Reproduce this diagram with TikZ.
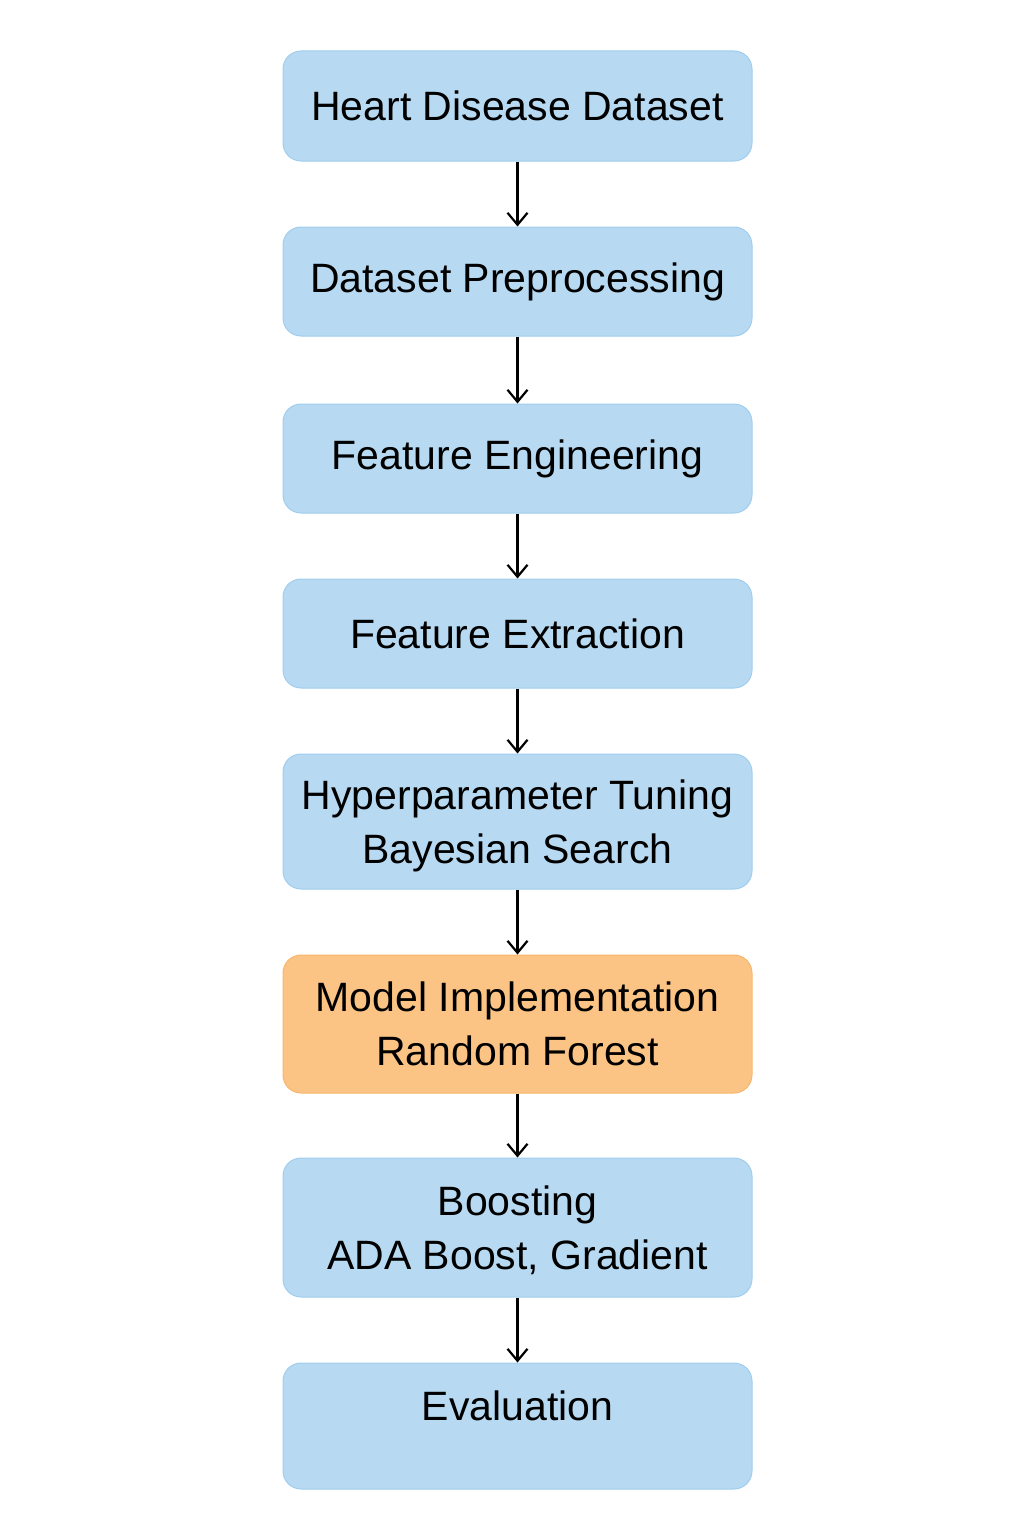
\documentclass[tikz,border=0pt]{standalone}
\usepackage{fontspec}
\setmainfont{Liberation Sans}
\usetikzlibrary{arrows.meta}

\begin{document}
\begin{tikzpicture}[x=1pt,y=-1pt]

% Soft colours for the stage boxes
\definecolor{stageblue}{RGB}{183,218,242}
\definecolor{stageblueline}{RGB}{160,205,238}
\definecolor{stageorange}{RGB}{252,196,132}
\definecolor{stageorangeline}{RGB}{246,182,108}

\tikzset{
  stage/.style={draw=stageblueline, fill=stageblue, line width=1pt,
    rounded corners=18pt, minimum width=469pt, inner sep=0pt,
    align=center, font=\fontsize{41}{54}\selectfont},
  stagehot/.style={stage, draw=stageorangeline, fill=stageorange},
  flow/.style={-{Straight Barb[length=12pt,width=20pt]}, line width=2.2pt},
}

% Page frame
\useasboundingbox (0,0) rectangle (1024,1536);

% Pipeline stages
\node[stage, minimum height=110pt] (data) at (517.5,106) {Heart Disease Dataset};
\node[stage, minimum height=109pt] (prep) at (517.5,281.5) {Dataset Preprocessing};
\node[stage, minimum height=109pt] (eng) at (517.5,458.5) {Feature Engineering};
\node[stage, minimum height=109pt] (extr) at (517.5,633.5) {Feature Extraction};
\node[stage, minimum height=135pt, text depth=0pt] (tune) at (517.5,821.5) {Hyperparameter Tuning\\Bayesian Search};
\node[stagehot, minimum height=138pt, text depth=0pt] (model) at (517.5,1024) {Model Implementation\\Random Forest};
\node[stage, minimum height=139pt, text depth=0pt] (boost) at (517.5,1227.5) {Boosting\\ADA Boost, Gradient};
\node[stage, minimum height=126pt, text depth=40pt] (eval) at (517.5,1426) {Evaluation};

% Arrows between stages
\foreach \a/\b in {data/prep, prep/eng, eng/extr, extr/tune, tune/model, model/boost, boost/eval} {
  \draw[flow] (\a.south) -- (\b.north);
}

\end{tikzpicture}
\end{document}
